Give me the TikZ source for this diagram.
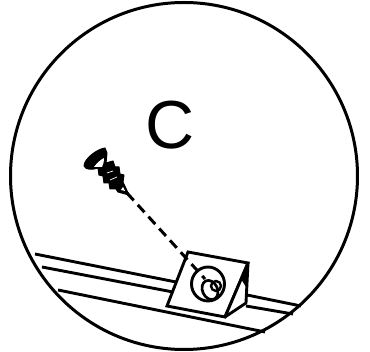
\documentclass[tikz,border=0pt]{standalone}
\usepackage{fontspec}
\setmainfont{Liberation Sans}
\begin{document}
\begin{tikzpicture}[x=1pt,y=-1pt,
  heavy/.style={draw=black,line width=2.9pt,line join=miter},
  outline/.style={draw=black,line width=3pt}]
\useasboundingbox (0,0) rectangle (370,352);
\fill[white] (0,0) rectangle (370,352);
\draw[outline] (184,176) circle (173.5);
% rails
\draw[heavy] (35,254) -- (176,282);
\draw[heavy] (42,267) -- (173,292);
\draw[heavy] (58,290) -- (265,332);
\draw[heavy] (247,295) -- (301,306);
\draw[heavy] (246,306) -- (293,314);
% block
\draw[heavy,fill=white] (188,252) -- (248,263) -- (225,317) -- (167,306) -- cycle;
\draw[heavy,fill=white,line join=round] (248,263) -- (246,303) -- (225,317) -- cycle;
\fill (248,263) -- (246,287) -- (241,279) -- cycle;
% hole
\draw[line width=2.9pt] (208,284) ellipse (16.5 and 17);
\draw[line width=2.7pt] (210,290) ellipse [x radius=7.5, y radius=10, rotate=25];
\draw[line width=2.4pt] (216,286) circle (5);
% screw
\coordinate (tip) at (127,193);
\coordinate (end) at (205,279);
\draw[line width=3pt,dash pattern=on 10pt off 6pt] (tip) -- (end);
\fill[line join=round,draw=black,line width=1pt] (84,166) .. controls (84,159) and (97,149) .. (105,148)
  -- (107,153) -- (106,163) -- (113,161) -- (115,167) -- (119,167) -- (120,174) -- (124,175) -- (123,182) -- (129,195)
  -- (118,192) -- (116,189) -- (110,189) -- (109,183) -- (104,183) -- (103,176) -- (99,175) -- (98,168)
  .. controls (92,170) and (86,170) .. (84,166) -- cycle;
\fill[white] (94,167) .. controls (97,163) and (100,160) .. (104,158)
  .. controls (104,162) and (103,165) .. (102,167) -- cycle;
\draw[white,line width=.7pt] (107,173) -- (113,171);
\draw[white,line width=.7pt] (110,180) -- (117,177);
\fill[white] (121,190) -- (125,191) -- (123,187) -- cycle;
% label
\node[inner sep=0pt,font=\fontsize{68}{68}\selectfont] (lab) at (170,125) {C};
\end{tikzpicture}
\end{document}
